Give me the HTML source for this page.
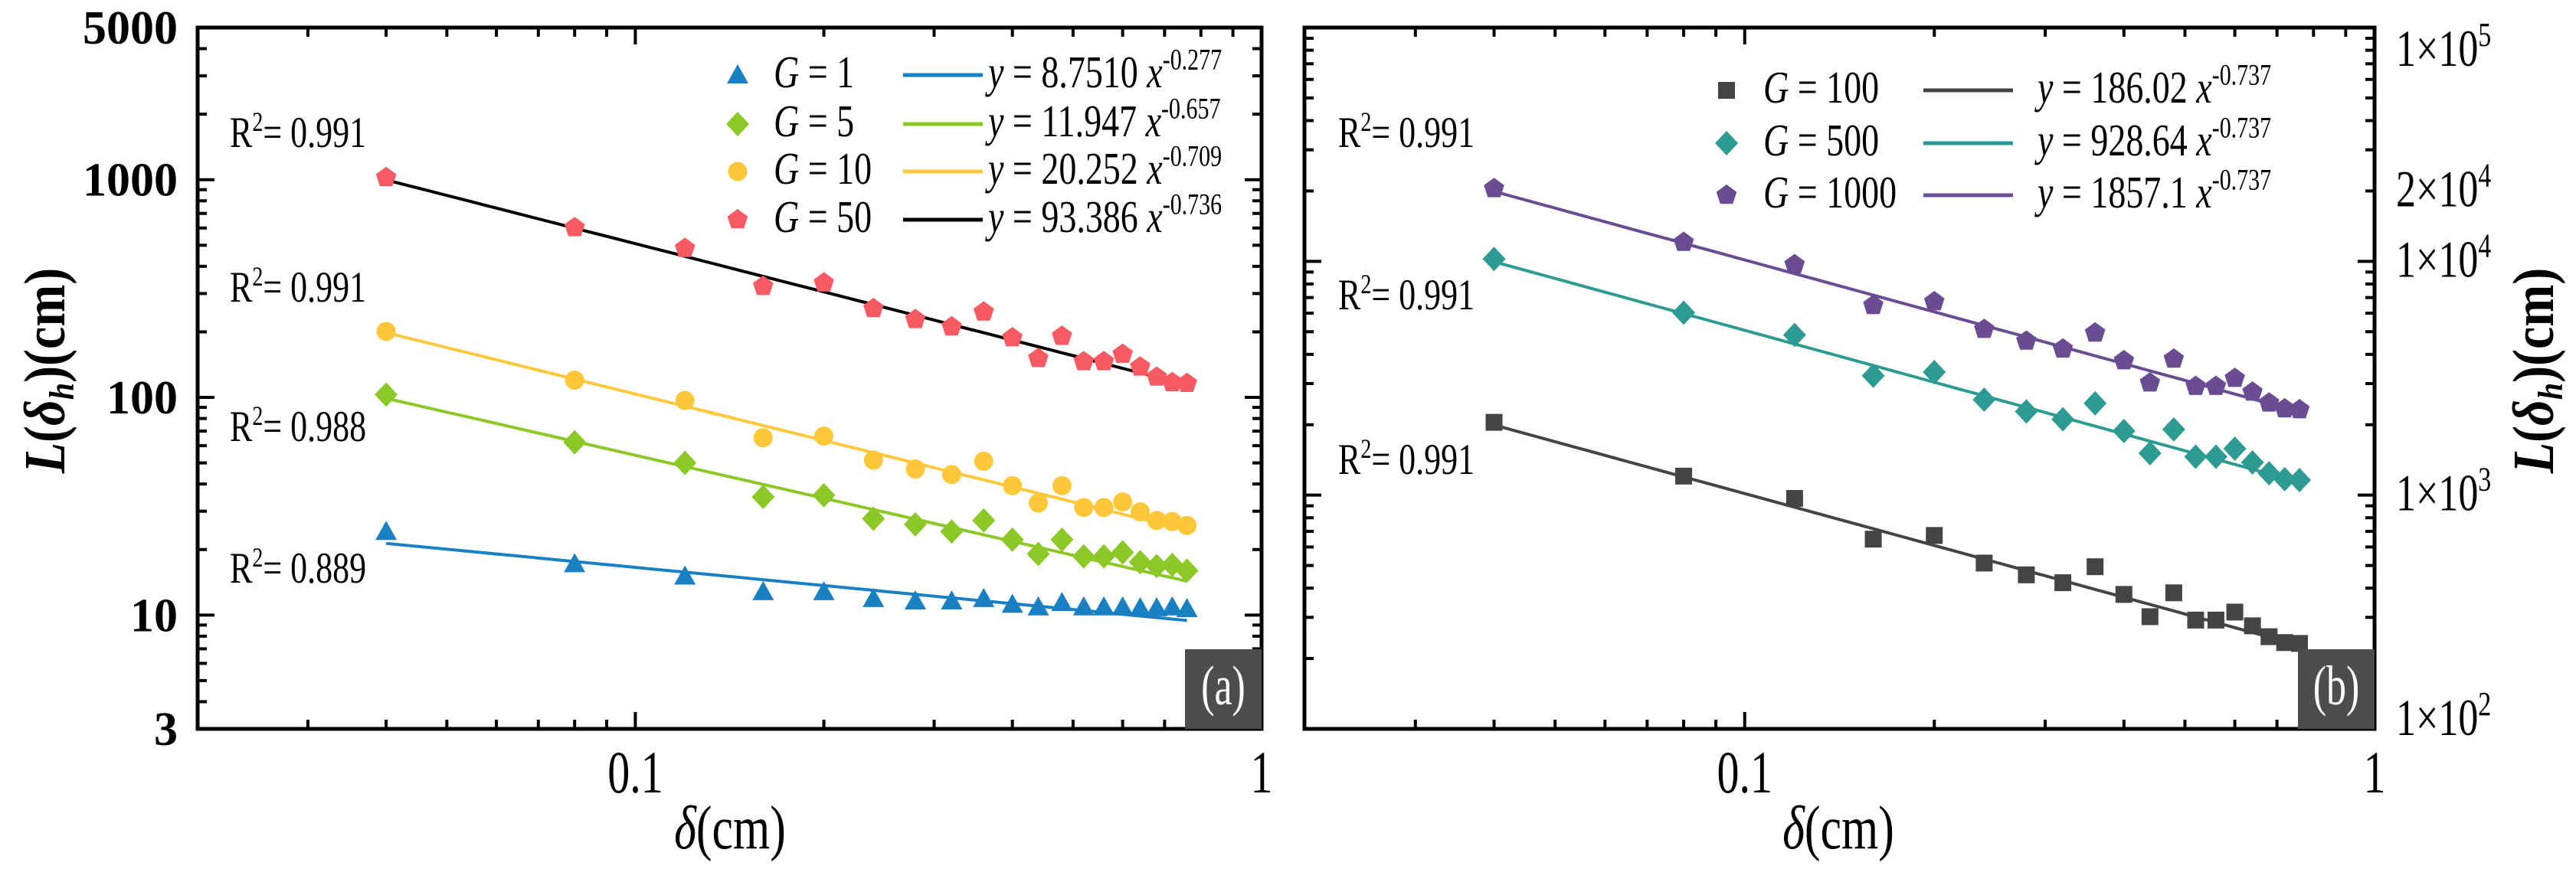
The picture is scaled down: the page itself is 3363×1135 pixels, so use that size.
<!DOCTYPE html>
<html><head><meta charset="utf-8"><style>
html,body{margin:0;padding:0;background:#fff;}
svg{display:block;}
svg text{font-family:"Liberation Serif","DejaVu Serif",serif;}
</style></head><body>
<svg id="chart" width="3363" height="1135" viewBox="0 0 3363 1135" xmlns="http://www.w3.org/2000/svg" font-family="Liberation Serif, serif"></svg>
<script>
// ---- data ----
const deltas = [0.04,0.08,0.12,0.16,0.2,0.24,0.28,0.32,0.36,0.4,0.44,0.48,0.52,0.56,0.6,0.64,0.68,0.72,0.76];
const seriesG1 = [24.2,17.2,15.1,12.8,12.8,11.9,11.6,11.6,11.9,11.2,10.9,11.4,10.9,10.9,10.9,10.8,10.8,10.9,10.7];
const seriesG5 = [103,62.2,50.0,34.9,35.5,27.7,26.1,24.2,27.2,22.2,19.1,22.2,18.6,18.6,19.4,17.5,16.8,17.0,16.0];
const seriesG10 = [201,120,96.8,65.2,66.4,51.5,46.9,44.2,50.9,39.3,32.7,39.3,31.2,31.2,33.1,29.8,27.2,26.9,25.8];
const seriesG50 = [1024,603,484,324,336,256,228,211,247,188,151,191,146,146,158,138,124,117,116];
const seriesG100 = [2048,1206,968,648,672,512,456,422,494,376,302,382,292,292,316,276,248,234,232];
const seriesG500 = [10240,6030,4840,3240,3360,2560,2280,2110,2470,1880,1510,1910,1460,1460,1580,1380,1240,1170,1160];
const seriesG1000 = [20480,12060,9680,6480,6720,5120,4560,4220,4940,3760,3020,3820,2920,2920,3160,2760,2480,2340,2320];
const fitA = {g1:8.7510,g5:11.947,g10:20.252,g50:93.386,g100:186.02,g500:928.64,g1000:1857.1};
const fitB = {g1:-0.277,g5:-0.657,g10:-0.709,g50:-0.736,g100:-0.737,g500:-0.737,g1000:-0.737};
const xTickLabels = ["0.1","1"];
const yTicksA = [5000,1000,100,10,3];

const NS="http://www.w3.org/2000/svg";
const svg=document.getElementById('chart');
const SERIF='Liberation Serif, DejaVu Serif, serif';
function el(tag,attrs,parent){const e=document.createElementNS(NS,tag);for(const k in attrs)e.setAttribute(k,attrs[k]);if(tag==='text')e.setAttribute('font-family',SERIF);(parent||svg).appendChild(e);return e;}
// tall text: draw at (x,y) with vertical stretch
function ttext(x,y,size,anchor,parent,sy){sy=sy||1.25;
  return el('text',{transform:`translate(${x},${y}) scale(1,${sy})`,x:0,y:0,'font-size':size,'text-anchor':anchor||'start'},parent);}

function makePanel(cfg){
  const g=el('g',{});
  
  
  const L=cfg.left,R=cfg.right,T=36,B=952;
  const xl0=Math.log10(0.02),xl1=0;
  const yl0=Math.log10(cfg.ymin),yl1=Math.log10(cfg.ymax);
  const X=v=>L+(Math.log10(v)-xl0)/(xl1-xl0)*(R-L);
  const Y=v=>B-(Math.log10(v)-yl0)/(yl1-yl0)*(B-T);
  const tk=el('g',{stroke:'#000','stroke-width':4},g);
  
  
  for(let d=-2;d<=0;d++)for(let m=1;m<=9;m++){const v=m*Math.pow(10,d);if(v<0.02-1e-9||v>1)continue;
    const x=X(v);const len=(m===1)?22:12;
    el('line',{x1:x,y1:B,x2:x,y2:B-len},tk);el('line',{x1:x,y1:T,x2:x,y2:T+len},tk);}
  for(let d=0;d<=5;d++)for(let m=1;m<=9;m++){const v=m*Math.pow(10,d);if(v<cfg.ymin-1e-9||v>cfg.ymax+1e-9)continue;
    const y=Y(v);const len=(m===1)?22:12;
    el('line',{x1:L,y1:y,x2:L+len,y2:y},tk);el('line',{x1:R,y1:y,x2:R-len,y2:y},tk);}
  [0.1,1].forEach((v,i)=>{const t=ttext(X(v),1035,58,'middle',g,1.35);t.textContent=xTickLabels[i];
    
    });
  const xt=ttext(cfg.xtitleX,1108,62,'middle',g,1.3);
  
  
  const d1=el('tspan',{'font-style':'italic'},xt);d1.textContent='δ';const d2=el('tspan',{},xt);d2.textContent='(cm)';
  cfg.series.forEach(s=>{
    const pts=[];const x0=deltas[0],x1=deltas[deltas.length-1];
    for(let i=0;i<=40;i++){const xv=x0*Math.pow(x1/x0,i/40);pts.push(X(xv).toFixed(1)+','+Y(s.a*Math.pow(xv,s.b)).toFixed(1));}
    const pl=el('polyline',{points:pts.join(' '),fill:'none',stroke:s.lc,'stroke-width':4},g);
    
    
    s.vals.forEach((v,i)=>{const m=marker(s.shape,X(deltas[i]),Y(v),s.mc,g);
      
      });
  });
  const fr=el('rect',{x:L,y:T,width:R-L,height:B-T,fill:'none',stroke:'#000','stroke-width':5},g);
  
  
  const bx=el('rect',{x:R-100,y:848,width:100,height:B-848,fill:'#4d4d4d'},g);
  
  
  const pt=ttext(R-50,920,52,'middle',g,1.4);pt.setAttribute('fill','#fff');pt.textContent=cfg.label;
  
  
  cfg.r2.forEach(r=>{const t=ttext(cfg.r2x,r[0],44,'start',g,1.3);
    
    
    const a=el('tspan',{},t);a.textContent='R';const b=el('tspan',{dy:-16,'font-size':28},t);b.textContent='2';
    const c=el('tspan',{dy:16},t);c.textContent='= '+r[1];});
  cfg.series.forEach((s,i)=>{const y=cfg.legY[i];
    const lg=el('g',{},g);
    
    
    marker(s.shape,cfg.legMx,y,s.mc,lg);
    const t=ttext(cfg.legTx,y+16,46,'start',lg,1.3);
    const gi=el('tspan',{'font-style':'italic'},t);gi.textContent='G';const gv=el('tspan',{},t);gv.textContent=' = '+s.gv;
    el('line',{x1:cfg.legL0,y1:y,x2:cfg.legL1,y2:y,stroke:s.lc,'stroke-width':5},lg);
    const e=ttext(cfg.legEx,y+16,46,'start',lg,1.3);
    const yi=el('tspan',{'font-style':'italic'},e);yi.textContent='y';
    const eq=el('tspan',{},e);eq.textContent=' = '+s.aTxt+' ';
    const xi=el('tspan',{'font-style':'italic'},e);xi.textContent='x';
    const ex=el('tspan',{dy:-18,'font-size':30},e);ex.textContent=s.bTxt;
  });
  return {X,Y,g};
}
function marker(shape,x,y,c,parent){
  let m;
  if(shape==='tri') m=el('polygon',{points:`${x},${y-14} ${x+14},${y+11} ${x-14},${y+11}`,fill:c},parent);
  else if(shape==='dia') m=el('polygon',{points:`${x},${y-16} ${x+15},${y} ${x},${y+16} ${x-15},${y}`,fill:c},parent);
  else if(shape==='cir') m=el('circle',{cx:x,cy:y,r:12.5,fill:c},parent);
  else if(shape==='sq') m=el('rect',{x:x-11,y:y-11,width:22,height:22,fill:c},parent);
  else {const p=[];for(let k=0;k<5;k++){const a=-Math.PI/2+k*2*Math.PI/5;p.push((x+14*Math.cos(a)).toFixed(1)+','+(y+14*Math.sin(a)).toFixed(1));}
    m=el('polygon',{points:p.join(' '),fill:c},parent);}
  return m;
}

const pa=makePanel({name:'panel-a',left:258,right:1647,ymin:3,ymax:5000,label:'(a)',xtitleX:953,
  r2x:300,r2:[[192,'0.991'],[394,'0.991'],[576,'0.988'],[761,'0.889']],
  legMx:963,legTx:1010,legL0:1179,legL1:1283,legEx:1290,legY:[98,162,224,287],
  series:[
   {key:'g1',gv:'1',vals:seriesG1,a:fitA.g1,b:fitB.g1,aTxt:'8.7510',bTxt:'-0.277',shape:'tri',mc:'#1a80c4',lc:'#1a80c4'},
   {key:'g5',gv:'5',vals:seriesG5,a:fitA.g5,b:fitB.g5,aTxt:'11.947',bTxt:'-0.657',shape:'dia',mc:'#8cc826',lc:'#8cc826'},
   {key:'g10',gv:'10',vals:seriesG10,a:fitA.g10,b:fitB.g10,aTxt:'20.252',bTxt:'-0.709',shape:'cir',mc:'#ffc83a',lc:'#ffc83a'},
   {key:'g50',gv:'50',vals:seriesG50,a:fitA.g50,b:fitB.g50,aTxt:'93.386',bTxt:'-0.736',shape:'pent',mc:'#f65a62',lc:'#000'}]});
yTicksA.forEach(v=>{const t=el('text',{x:232,y:pa.Y(v)+21,'font-size':62,'font-weight':'bold','text-anchor':'end'});t.textContent=String(v);
  
  });
const yta=el('text',{transform:'translate(84,484) rotate(-90) scale(1,1.15)','font-size':66,'font-weight':'bold','text-anchor':'middle'});


yta.innerHTML='<tspan font-style="italic">L</tspan>(<tspan font-style="italic">δ</tspan><tspan font-style="italic" font-size="40" dy="10">h</tspan><tspan dy="-10">)(cm)</tspan>';

const pb=makePanel({name:'panel-b',left:1703,right:3100,ymin:100,ymax:100000,label:'(b)',xtitleX:2400,
  r2x:1747,r2:[[192,'0.991'],[404,'0.991'],[619,'0.991']],
  legMx:2254,legTx:2302,legL0:2511,legL1:2628,legEx:2660,legY:[118,187,255],
  series:[
   {key:'g100',gv:'100',vals:seriesG100,a:fitA.g100,b:fitB.g100,aTxt:'186.02',bTxt:'-0.737',shape:'sq',mc:'#444',lc:'#444'},
   {key:'g500',gv:'500',vals:seriesG500,a:fitA.g500,b:fitB.g500,aTxt:'928.64',bTxt:'-0.737',shape:'dia',mc:'#2e9b93',lc:'#2e9b93'},
   {key:'g1000',gv:'1000',vals:seriesG1000,a:fitA.g1000,b:fitB.g1000,aTxt:'1857.1',bTxt:'-0.737',shape:'pent',mc:'#6a4c93',lc:'#6a4c93'}]});
const bTickVals=[100000,20000,10000,1000,100];
const bTickExp=['5','4','4','3','2'];
const bTickMant=['1','2','1','1','1'];
bTickVals.forEach((v,i)=>{let y=pb.Y(v)+20; if(i===0)y+=30; if(i===4)y-=12;
  const t=ttext(3128,y,52,'start',null,1.3);
  
  
  const a=el('tspan',{},t);a.textContent=bTickMant[i]+'×10';
  const b=el('tspan',{dy:-20,'font-size':34},t);b.textContent=bTickExp[i];});
const ytb=el('text',{transform:'translate(3333,484) rotate(-90) scale(1,1.15)','font-size':66,'font-weight':'bold','text-anchor':'middle'});


ytb.innerHTML='<tspan font-style="italic">L</tspan>(<tspan font-style="italic">δ</tspan><tspan font-style="italic" font-size="40" dy="10">h</tspan><tspan dy="-10">)(cm)</tspan>';
</script>
</body></html>
